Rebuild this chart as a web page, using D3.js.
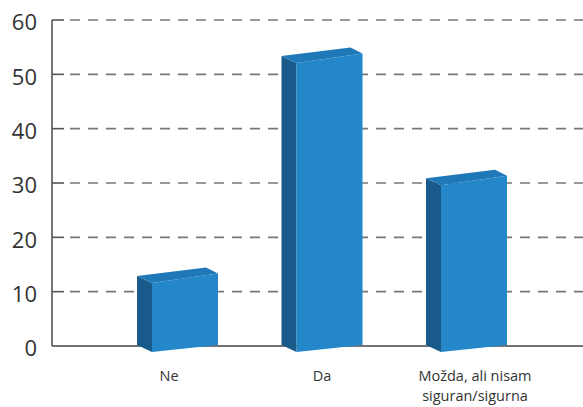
<!DOCTYPE html>
<html><head><meta charset="utf-8">
<script src="https://cdn.jsdelivr.net/npm/d3@7"></script>
<style>body{margin:0;background:#fff}svg{display:block}</style>
</head><body>
<svg id="c" width="583" height="407"></svg>
<script>
const categories = ["Ne", "Da", "Možda, ali nisam|siguran/sigurna"];
const values = [12.5, 53, 30.5];
const yTicks = [0, 10, 20, 30, 40, 50, 60];

const svg = d3.select("#c");
const y = d3.scaleLinear().domain([0, 60]).range([346, 20]);
const xb = d3.scalePoint().domain(categories).range([185, 474]);
const xl = d3.scalePoint().domain(categories).range([169, 475]);
const left = 52, right = 583;

// grid
svg.append("g").selectAll("line").data(yTicks.filter(t => t > 0)).join("line")
  .attr("x1", left + 12).attr("x2", right)
  .attr("y1", d => y(d)).attr("y2", d => y(d))
  .attr("stroke", "#777").attr("stroke-width", 1.6)
  .attr("stroke-dasharray", "10,8").attr("stroke-dashoffset", -6);
// tick marks
svg.append("g").selectAll("line").data(yTicks.filter(t => t > 0)).join("line")
  .attr("x1", left).attr("x2", left + 12)
  .attr("y1", d => y(d)).attr("y2", d => y(d))
  .attr("stroke", "#555").attr("stroke-width", 1.6);

// y labels via axis
const ay = svg.append("g").attr("transform", `translate(${left - 15},0)`)
  .call(d3.axisLeft(y).tickValues(yTicks).tickSize(0).tickPadding(0));
ay.select(".domain").remove();
ay.selectAll("text").attr("font-family", "'Open Sans', sans-serif")
  .attr("font-size", 22).attr("fill", "#333").attr("dy", "0.45em");

// axes lines
svg.append("line").attr("x1", left).attr("x2", left).attr("y1", y(60)).attr("y2", y(0))
  .attr("stroke", "#555").attr("stroke-width", 1.6);
svg.append("line").attr("x1", left).attr("x2", right).attr("y1", y(0)).attr("y2", y(0))
  .attr("stroke", "#444").attr("stroke-width", 1.6);

// 3D bars
const w = 33;
const data = categories.map((c, i) => ({c, v: values[i]}));
const g = svg.append("g");
data.forEach(d => {
  const cx = xb(d.c), yT = y(d.v), y0 = y(0);
  const TL = [cx - w, yT + 5], TR = [cx + w, yT - 4.5];
  const BR = [cx + w, y0 - 1], BL = [cx - w, y0 + 6];
  const off = (p, dx, dy) => [p[0] + dx, p[1] + dy];
  const side = [off(TL, -15, -7), TL, BL, off(BL, -15, -7)];
  const top = [off(TL, -15, -7), off(TR, -12, -6), TR, TL];
  const front = [TL, TR, BR, BL];
  const P = pts => pts.map(p => p.join(",")).join(" ");
  g.append("polygon").attr("points", P(side)).attr("fill", "#185b8a");
  g.append("polygon").attr("points", P(front)).attr("fill", "#2387c9");
  g.append("polygon").attr("points", P(top)).attr("fill", "#1f79b9");
});

// x labels
const xl_g = svg.append("g");
categories.forEach(c => {
  const lines = c.split("|");
  lines.forEach((l, i) => xl_g.append("text").attr("x", xl(c)).attr("y", 381 + i * 20)
    .attr("text-anchor", "middle").attr("font-family", "'Open Sans', sans-serif")
    .attr("font-size", 14.5).attr("fill", "#333").text(l));
});
</script>
</body></html>
